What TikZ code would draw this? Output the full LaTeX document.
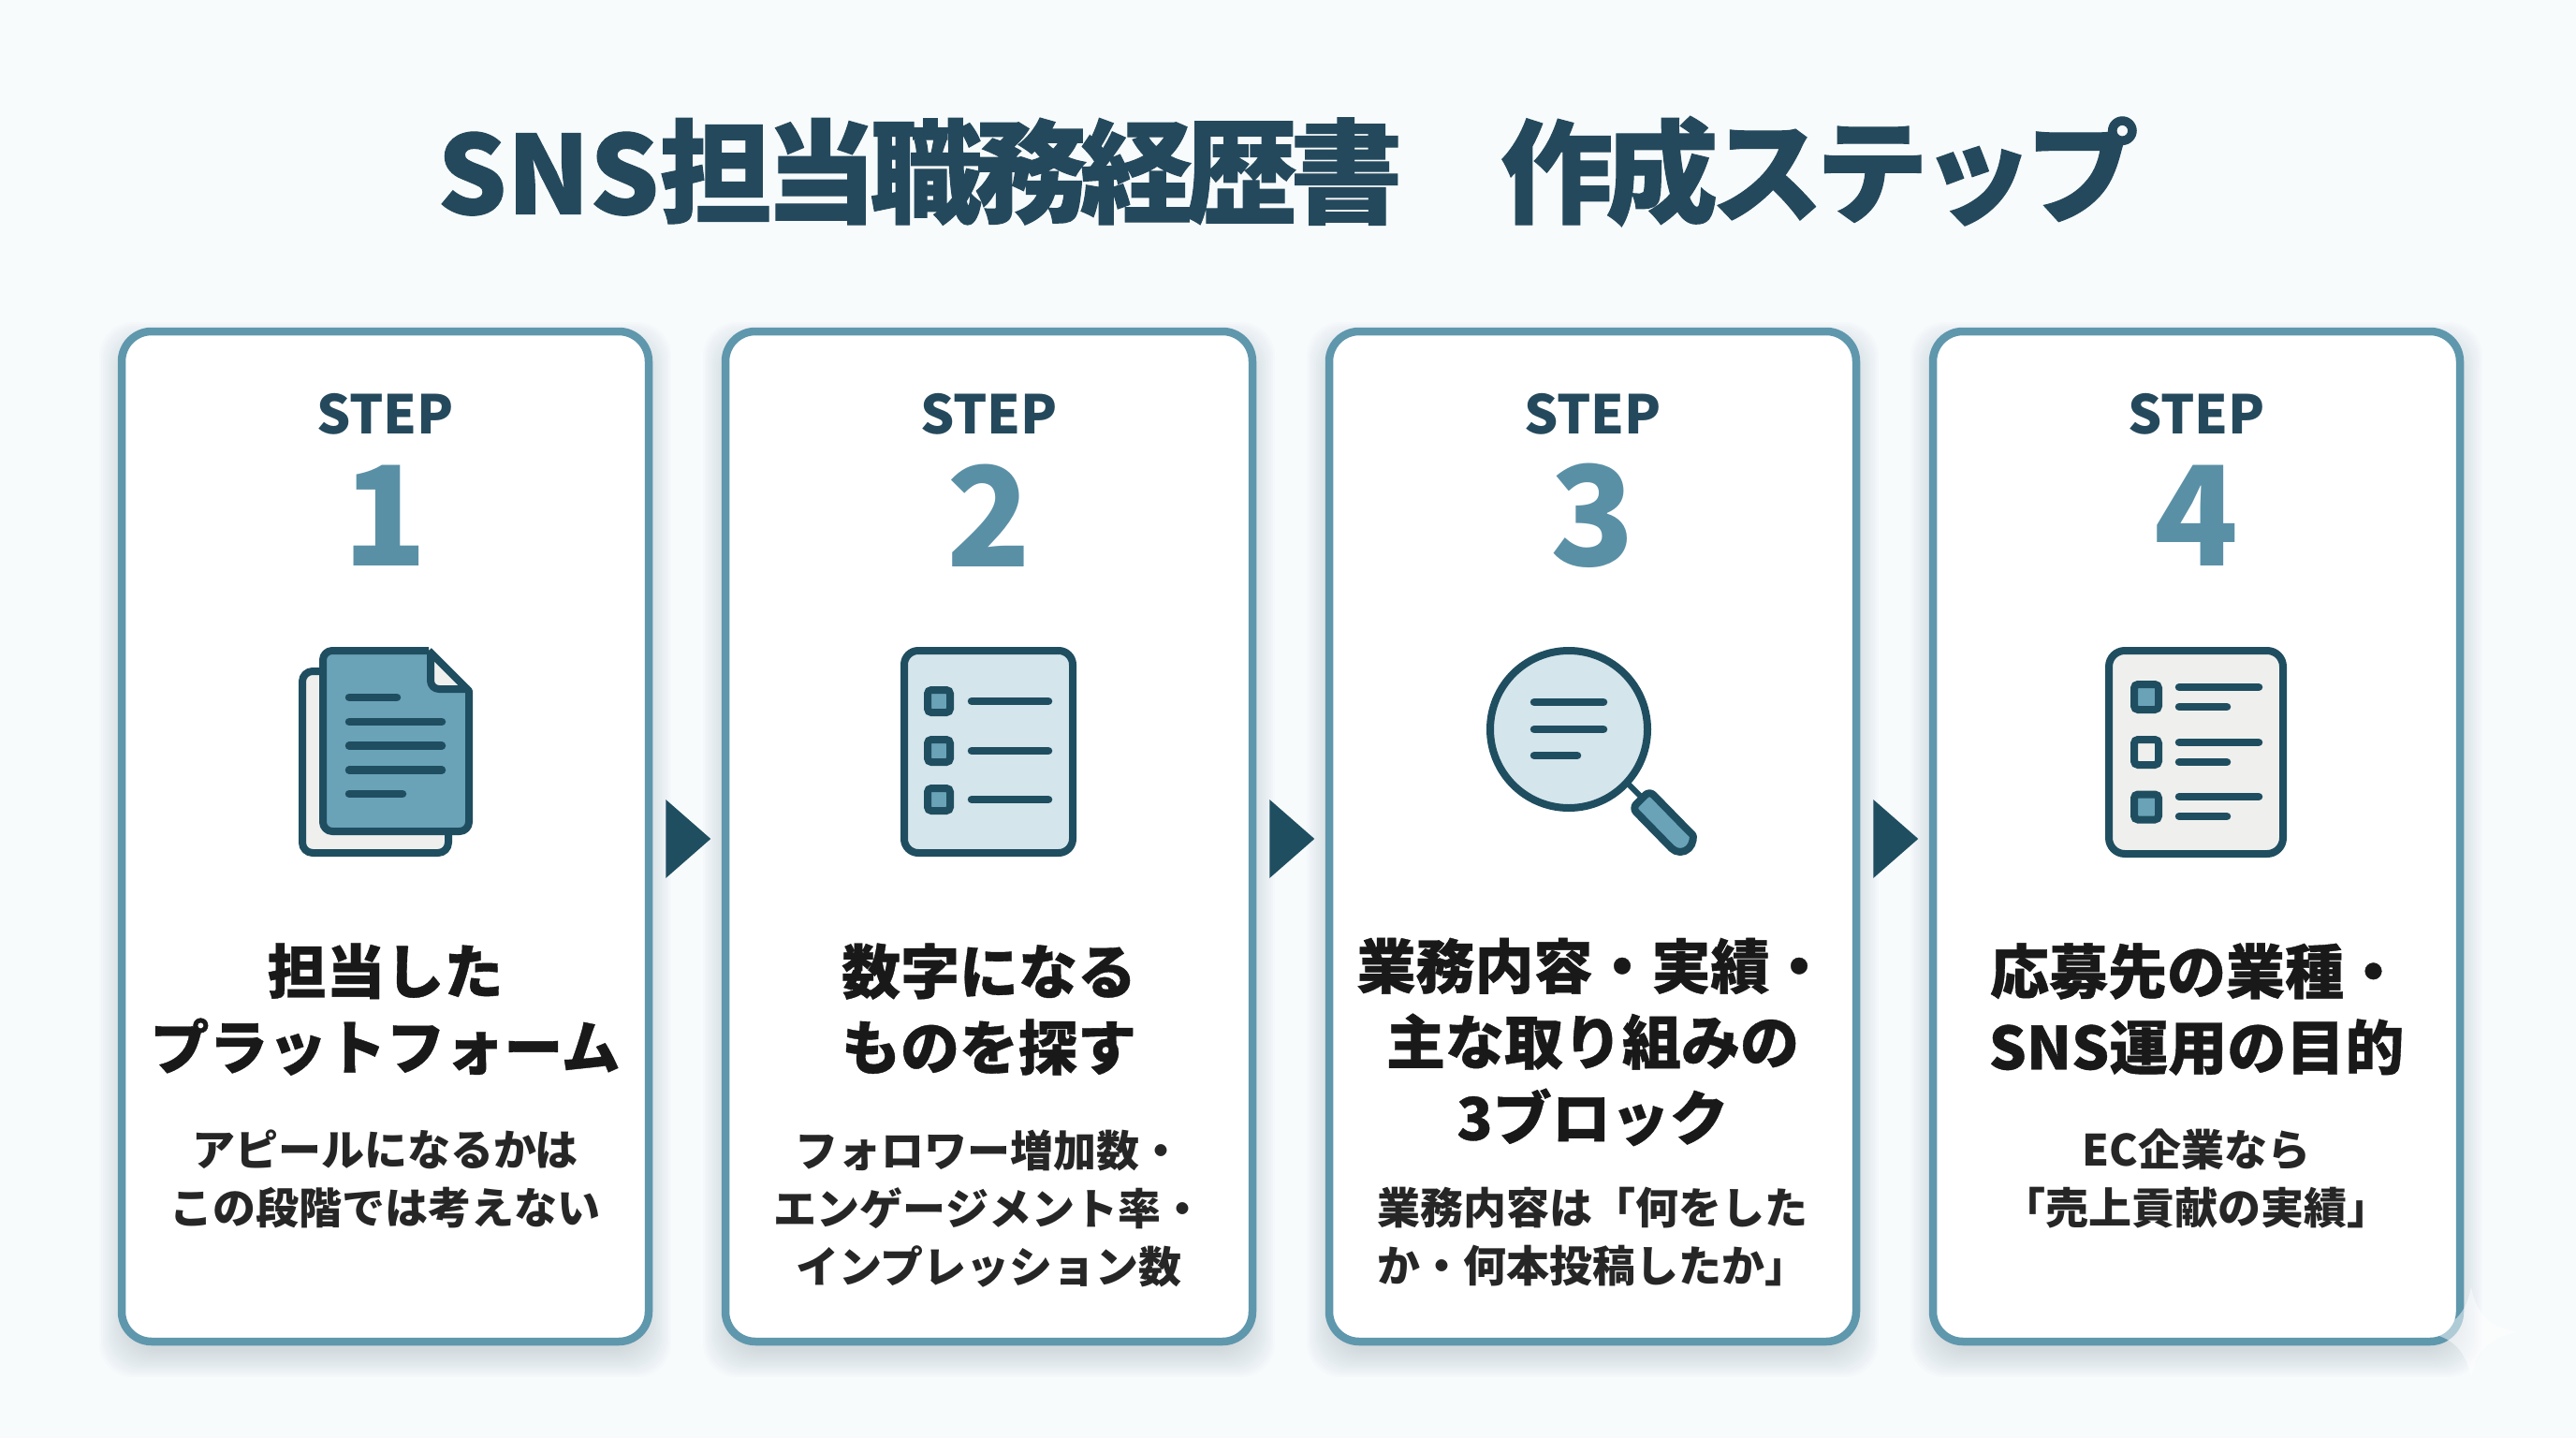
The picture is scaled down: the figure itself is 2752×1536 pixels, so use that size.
\documentclass[tikz,border=0pt]{standalone}
\usepackage{fontspec}
\setmainfont{Noto Sans CJK JP}
\newfontfamily\heavytitle[BoldFeatures={LetterSpace=-6.4,FakeBold=0.9}]{Noto Sans CJK JP}
\newfontfamily\heavylatin[BoldFeatures={FakeBold=0.9}]{Noto Sans CJK JP}
\newfontfamily\heavyhead[BoldFeatures={FakeBold=0.6}]{Noto Sans CJK JP}
\usetikzlibrary{calc}
\definecolor{bgc}{HTML}{F7FBFC}
\definecolor{edge}{HTML}{5F97AD}
\definecolor{dark}{HTML}{1F4E60}
\definecolor{titlec}{HTML}{25495C}
\definecolor{numc}{HTML}{5A90A6}
\definecolor{midf}{HTML}{6AA3B8}
\definecolor{lightf}{HTML}{D5E5EC}
\definecolor{greyf}{HTML}{EFF0EE}
\definecolor{shadowc}{HTML}{3A4A52}
\tikzset{
 cardbox/.style={draw=edge,fill=white,line width=8.5pt,rounded corners=32pt,minimum width=563pt,minimum height=1079pt,inner sep=0pt},
 shadowbox/.style={fill=shadowc,opacity=0.011,rounded corners=36pt,draw=none},
 titletext/.style={font=\fontsize{120}{130}\heavytitle\bfseries,text=titlec,inner sep=0pt},
 steptext/.style={font=\fontsize{57}{70}\selectfont\bfseries,text=titlec,inner sep=0pt},
 numtext/.style={font=\fontsize{148}{170}\selectfont\bfseries,text=numc,inner sep=0pt},
 headtext/.style={font=\fontsize{63}{81}\heavyhead\bfseries,text=black!90,inner sep=0pt,align=center},
 subtext/.style={font=\fontsize{46}{62}\selectfont\bfseries,text=black!85,inner sep=0pt,align=center},
 outline/.style={draw=dark,line width=8pt,line join=round},
 rule/.style={draw=dark,line width=8.5pt,line cap=round},
 tick/.style={draw=dark,line width=8pt,rounded corners=4pt},
 flowarrow/.style={fill=dark},
}
\newcommand{\cardat}[3]{% name, center x, label
  \foreach \e in {-8,-6,...,20}{
    \fill[shadowbox] (#2-285.5-\e,350+14-\e) rectangle (#2+285.5+\e,1437+14+\e);
  }
  \node[cardbox] (#1) at (#2,893.5) {};
  \node[steptext] (#1step) at (#2,442) {STEP};
  \node[numtext] (#1num) at (#2,551) {#3};
}
\begin{document}
\begin{tikzpicture}[x=1pt,y=-1pt]
\useasboundingbox (0,0) rectangle (2752,1536);
\fill[bgc] (0,0) rectangle (2752,1536);
\node[titletext] (title) at (1376,183) {{\heavylatin\bfseries\fontsize{116}{130}\selectfont SNS}担当職務経歴書　作成ステップ};
\cardat{c1}{411.5}{1}
\cardat{c2}{1056.5}{2}
\cardat{c3}{1701.5}{3}
\cardat{c4}{2346.5}{4}
% arrows
\foreach \a/\b in {c1/a1,c2/a2,c3/a3}{
  \fill[flowarrow] ($(\a.east)+(14,-39.5)$) -- ($(\a.east)+(62,2.5)$) -- ($(\a.east)+(14,44.5)$) -- cycle;
}
% icon 1
\draw[outline,fill=greyf,rounded corners=11pt] (323,717) rectangle (479,911);
\fill[midf,rounded corners=10pt] (458,695) -- (501,738) -- (501,888) -- (345,888) -- (345,695) -- cycle;
\fill[greyf] (460,697) -- (460,736) -- (501,736) -- cycle;
\draw[outline,rounded corners=9pt] (460,696) -- (460,736) -- (501,736);
\draw[outline] (458,695) -- (501,738) [rounded corners=10pt] -- (501,888) -- (345,888) -- (345,695) -- (458,695);
\foreach \ya/\xb in {745/428,771/476,796.7/476,822.7/476,848/434}{
  \draw[rule] (373,\ya) -- (\xb-4,\ya);
}
% icon 2
\draw[outline,fill=lightf,rounded corners=15pt] (966,695) rectangle (1146,911);
\foreach \ya in {749,802,854}{
  \draw[tick,fill=midf] (991,\ya-12) rectangle (1015,\ya+12);
  \draw[rule] (1038,\ya) -- (1120,\ya);
}
% icon 3
\draw[dark,line width=6pt] (1740,838) -- (1752,850);
\draw[outline,fill=midf,rounded corners=6pt] (1743.8,863.2) -- (1762.2,844.8) -- (1804.2,887.8) [sharp corners] arc[start angle=45,end angle=-135,radius=13pt] [rounded corners=6pt] -- cycle;
\draw[outline,fill=lightf] (1676,779) circle [radius=84pt];
\draw[rule] (1639,750) -- (1713,750);
\draw[rule] (1639,779) -- (1713,779);
\draw[rule] (1639,807) -- (1685,807);
% icon 4
\draw[outline,fill=greyf,rounded corners=17pt] (2253,695) rectangle (2439,912);
\foreach \ya/\yb/\fc in {744.5/734/midf,803.5/793/greyf,862/851/midf}{
  \draw[tick,fill=\fc] (2280,\ya-13.5) rectangle (2306,\ya+13.5);
  \draw[rule] (2328,\yb) -- (2413,\yb);
  \draw[rule] (2328,\yb+21) -- (2379,\yb+21);
}
% texts
\node[headtext] (h1) at (411.5,1078) {担当した\\プラットフォーム};
\node[subtext] (s1) at (411.5,1259) {アピールになるかは\\この段階では考えない};
\node[headtext] (h2) at (1056.5,1078) {数字になる\\ものを探す};
\node[subtext] (s2) at (1056.5,1291) {フォロワー増加数・\\エンゲージメント率・\\インプレッション数};
\node[headtext] (h3) at (1701.5,1113) {業務内容・実績・\\主な取り組みの\\3ブロック};
\node[subtext] (s3) at (1701.5,1321) {業務内容は「何をした\\か・何本投稿したか」};
\node[headtext] (h4) at (2346.5,1078) {応募先の業種・\\SNS運用の目的};
\node[subtext] (s4) at (2346.5,1259) {EC企業なら\\「売上貢献の実績」};
% pale sparkle over the corner of the last card
\fill[white,opacity=0.5] (2640,1375) .. controls (2646,1405) and (2660,1417) .. (2690,1423) .. controls (2660,1429) and (2646,1441) .. (2640,1472) .. controls (2634,1441) and (2620,1429) .. (2592,1423) .. controls (2620,1417) and (2634,1405) .. (2640,1375) -- cycle;
\end{tikzpicture}
\end{document}
